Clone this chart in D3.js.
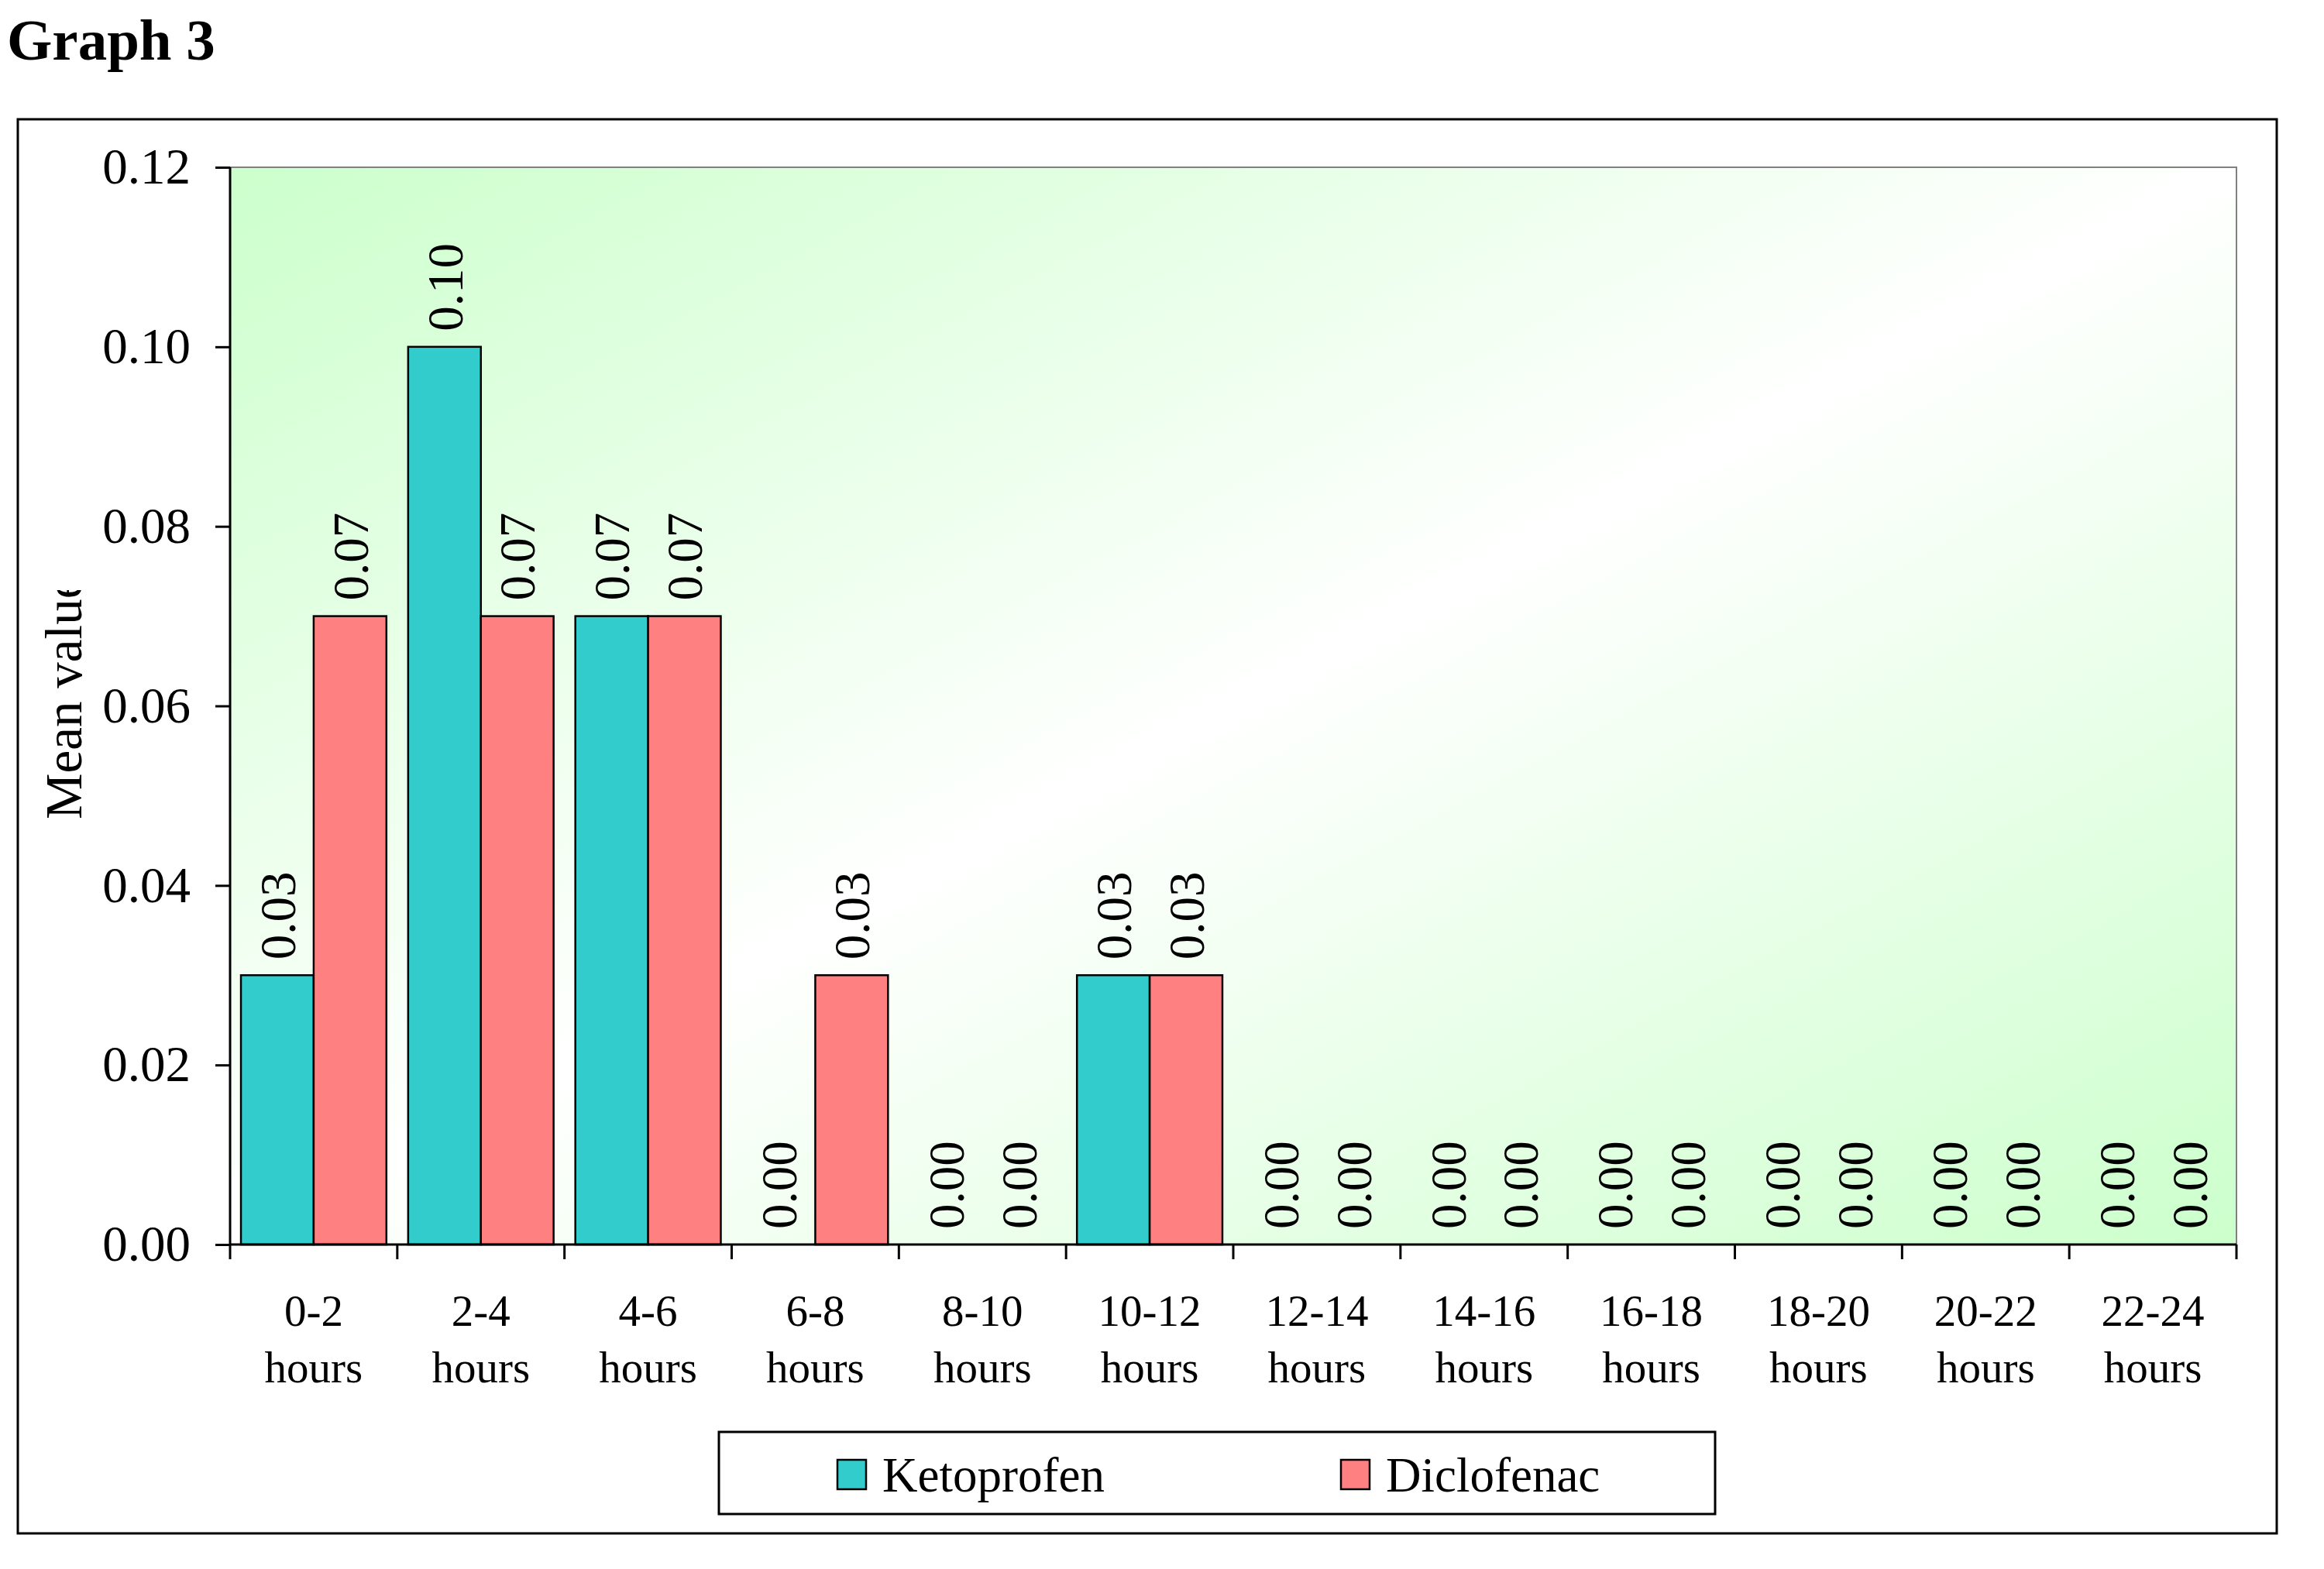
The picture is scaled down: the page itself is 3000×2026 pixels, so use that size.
<!DOCTYPE html>
<html><head><meta charset="utf-8">
<script src="https://cdn.jsdelivr.net/npm/d3@7"></script>
<style>
body{margin:0;background:#fff;}
svg{display:block;font-family:"Liberation Serif","Times New Roman",serif;}
</style></head>
<body>
<script>
const categories = ["0-2","2-4","4-6","6-8","8-10","10-12","12-14","14-16","16-18","18-20","20-22","22-24"];
const seriesNames = ["Ketoprofen","Diclofenac"];
const ketoprofen = [0.03,0.10,0.07,0.00,0.00,0.03,0.00,0.00,0.00,0.00,0.00,0.00];
const diclofenac = [0.07,0.07,0.07,0.03,0.00,0.03,0.00,0.00,0.00,0.00,0.00,0.00];
const yTicks = [0,0.02,0.04,0.06,0.08,0.10,0.12];
const colors = ["#33CCCC","#FF8080"];

const W=3000,H=2026;
const L=297,R=2887,T=216,B=1607;
const svg=d3.select("body").append("svg").attr("width",W).attr("height",H);

const defs=svg.append("defs");
const g=defs.append("linearGradient").attr("id","bg").attr("x1",0).attr("y1",0).attr("x2",1).attr("y2",1);
g.append("stop").attr("offset","0%").attr("stop-color","#CCFFCC");
g.append("stop").attr("offset","50%").attr("stop-color","#FFFFFF");
g.append("stop").attr("offset","100%").attr("stop-color","#CCFFCC");
defs.append("clipPath").attr("id","ytclip").append("rect").attr("x",0).attr("y",762).attr("width",200).attr("height",600);

// Title
svg.append("text").attr("x",9).attr("y",77).attr("font-size",75).attr("font-weight","bold").text("Graph 3");

// outer box
svg.append("rect").attr("x",23).attr("y",154).attr("width",2916).attr("height",1826)
  .attr("fill","none").attr("stroke","#000").attr("stroke-width",3);

const x=d3.scaleBand().domain(categories).range([L,R]).paddingInner(0.13).paddingOuter(0.065);
const xs=d3.scaleBand().domain(seriesNames).range([0,x.bandwidth()]);
const y=d3.scaleLinear().domain([0,0.12]).range([B,T]);

// plot area
svg.append("rect").attr("x",L).attr("y",T).attr("width",R-L).attr("height",B-T)
  .attr("fill","url(#bg)").attr("stroke","#808080").attr("stroke-width",2);

const data=categories.map((c,i)=>({c,vals:[ketoprofen[i],diclofenac[i]]}));
const grp=svg.append("g").selectAll("g").data(data).join("g").attr("transform",d=>`translate(${x(d.c)},0)`);
grp.selectAll("rect").data(d=>d.vals.map((v,k)=>({v,k}))).join("rect")
  .attr("x",d=>xs(seriesNames[d.k])).attr("width",xs.bandwidth())
  .attr("y",d=>y(d.v)).attr("height",d=>B-y(d.v))
  .attr("fill",d=>colors[d.k]).attr("stroke","#000").attr("stroke-width",2.5)
  .attr("display",d=>d.v>0?null:"none");
grp.selectAll("text").data(d=>d.vals.map((v,k)=>({v,k}))).join("text")
  .attr("transform",d=>`translate(${xs(seriesNames[d.k])+xs.bandwidth()/2},${y(d.v)-20}) rotate(-90)`)
  .attr("dy","0.35em").attr("font-size",65).attr("text-anchor","start")
  .text(d=>d.v.toFixed(2));

// y axis
const ya=svg.append("g").attr("transform",`translate(${L},0)`)
  .call(d3.axisLeft(y).tickValues(yTicks).tickFormat(d3.format(".2f")).tickSize(19).tickPadding(32));
ya.select(".domain").attr("stroke","#000").attr("stroke-width",3).attr("d",`M0,${T}V${B}`);
ya.selectAll(".tick line").attr("stroke","#000").attr("stroke-width",3);
ya.selectAll(".tick text").attr("font-size",65).attr("font-family","Liberation Serif").attr("fill","#000");

// x axis
const boundaries=categories.map(c=>x(c)-x.step()*x.paddingOuter()).concat([R]);
const xa=svg.append("g");
xa.append("line").attr("x1",L).attr("x2",R).attr("y1",B).attr("y2",B).attr("stroke","#000").attr("stroke-width",3);
xa.selectAll("line.tk").data(boundaries).join("line").attr("class","tk")
  .attr("x1",d=>d).attr("x2",d=>d).attr("y1",B).attr("y2",B+19).attr("stroke","#000").attr("stroke-width",3);
const xl=xa.selectAll("text").data(categories).join("text")
  .attr("x",d=>x(d)+x.bandwidth()/2).attr("y",1712).attr("text-anchor","middle").attr("font-size",57);
xl.append("tspan").attr("x",d=>x(d)+x.bandwidth()/2).text(d=>d);
xl.append("tspan").attr("x",d=>x(d)+x.bandwidth()/2).attr("dy",73).text("hours");

// y title
svg.append("g").attr("clip-path","url(#ytclip)").append("text")
  .attr("transform","translate(82,1058) rotate(-90)").attr("dy","0.35em")
  .attr("font-size",67).attr("text-anchor","start").text("Mean value");

// legend
const lg=svg.append("g");
lg.append("rect").attr("x",928).attr("y",1849).attr("width",1286).attr("height",106)
  .attr("fill","#fff").attr("stroke","#000").attr("stroke-width",3);
const lx=[1081,1731];
seriesNames.forEach((n,i)=>{
  lg.append("rect").attr("x",lx[i]).attr("y",1885).attr("width",37).attr("height",38)
    .attr("fill",colors[i]).attr("stroke","#000").attr("stroke-width",2.5);
  lg.append("text").attr("x",lx[i]+58).attr("y",1926).attr("font-size",63).text(n);
});
</script>
</body></html>
